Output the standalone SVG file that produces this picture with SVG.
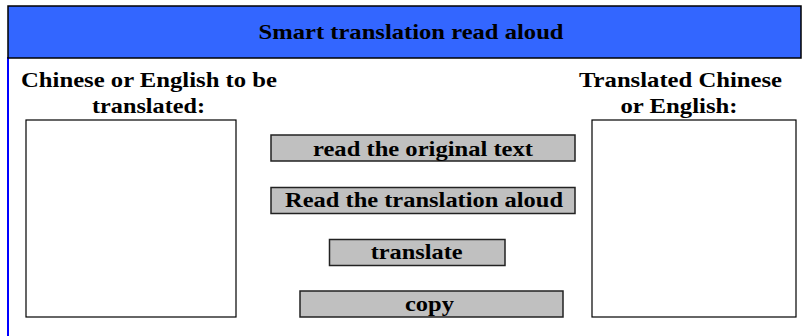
<svg xmlns="http://www.w3.org/2000/svg" width="802" height="336" viewBox="0 0 802 336">
<style>
text{font-family:"Liberation Serif","Times New Roman",serif;font-weight:bold;fill:#000;text-anchor:middle;font-size:22px}
.btn{fill:#c0c0c0;stroke:#222;stroke-width:1.5}
.box{fill:#fff;stroke:#000;stroke-width:1.2}
</style>
<rect x="0" y="0" width="802" height="336" fill="#fff"/>
<g id="frame">
<line x1="8" y1="57" x2="8" y2="336" stroke="#0000ff" stroke-width="2"/>
</g>
<g id="header">
<rect x="8" y="6" width="793" height="52" fill="#3366ff" stroke="#000" stroke-width="1.5"/>
<text x="411" y="38.5" textLength="305" lengthAdjust="spacingAndGlyphs">Smart translation read aloud</text>
</g>
<g id="source-label">
<text x="149" y="87" textLength="256" lengthAdjust="spacingAndGlyphs">Chinese or English to be</text>
<text x="148.5" y="113" textLength="113" lengthAdjust="spacingAndGlyphs">translated:</text>
</g>
<g id="target-label">
<text x="680.5" y="87" textLength="203" lengthAdjust="spacingAndGlyphs">Translated Chinese</text>
<text x="679" y="113" textLength="117" lengthAdjust="spacingAndGlyphs">or English:</text>
</g>
<g id="source-box"><rect class="box" x="26" y="120" width="210" height="197"/></g>
<g id="target-box"><rect class="box" x="592" y="120" width="204" height="197"/></g>
<g id="btn-read-original">
<rect class="btn" x="271" y="135" width="304" height="26"/>
<text x="423" y="155.5" textLength="220" lengthAdjust="spacingAndGlyphs">read the original text</text>
</g>
<g id="btn-read-translation">
<rect class="btn" x="271" y="187.5" width="304" height="26"/>
<text x="424" y="206.5" textLength="278" lengthAdjust="spacingAndGlyphs">Read the translation aloud</text>
</g>
<g id="btn-translate">
<rect class="btn" x="329.5" y="239.5" width="175.5" height="26"/>
<text x="416.7" y="258.5" textLength="92" lengthAdjust="spacingAndGlyphs">translate</text>
</g>
<g id="btn-copy">
<rect class="btn" x="300" y="291" width="263" height="26"/>
<text x="429.5" y="310.5" textLength="49" lengthAdjust="spacingAndGlyphs">copy</text>
</g>
<g id="connectors"></g>
</svg>
